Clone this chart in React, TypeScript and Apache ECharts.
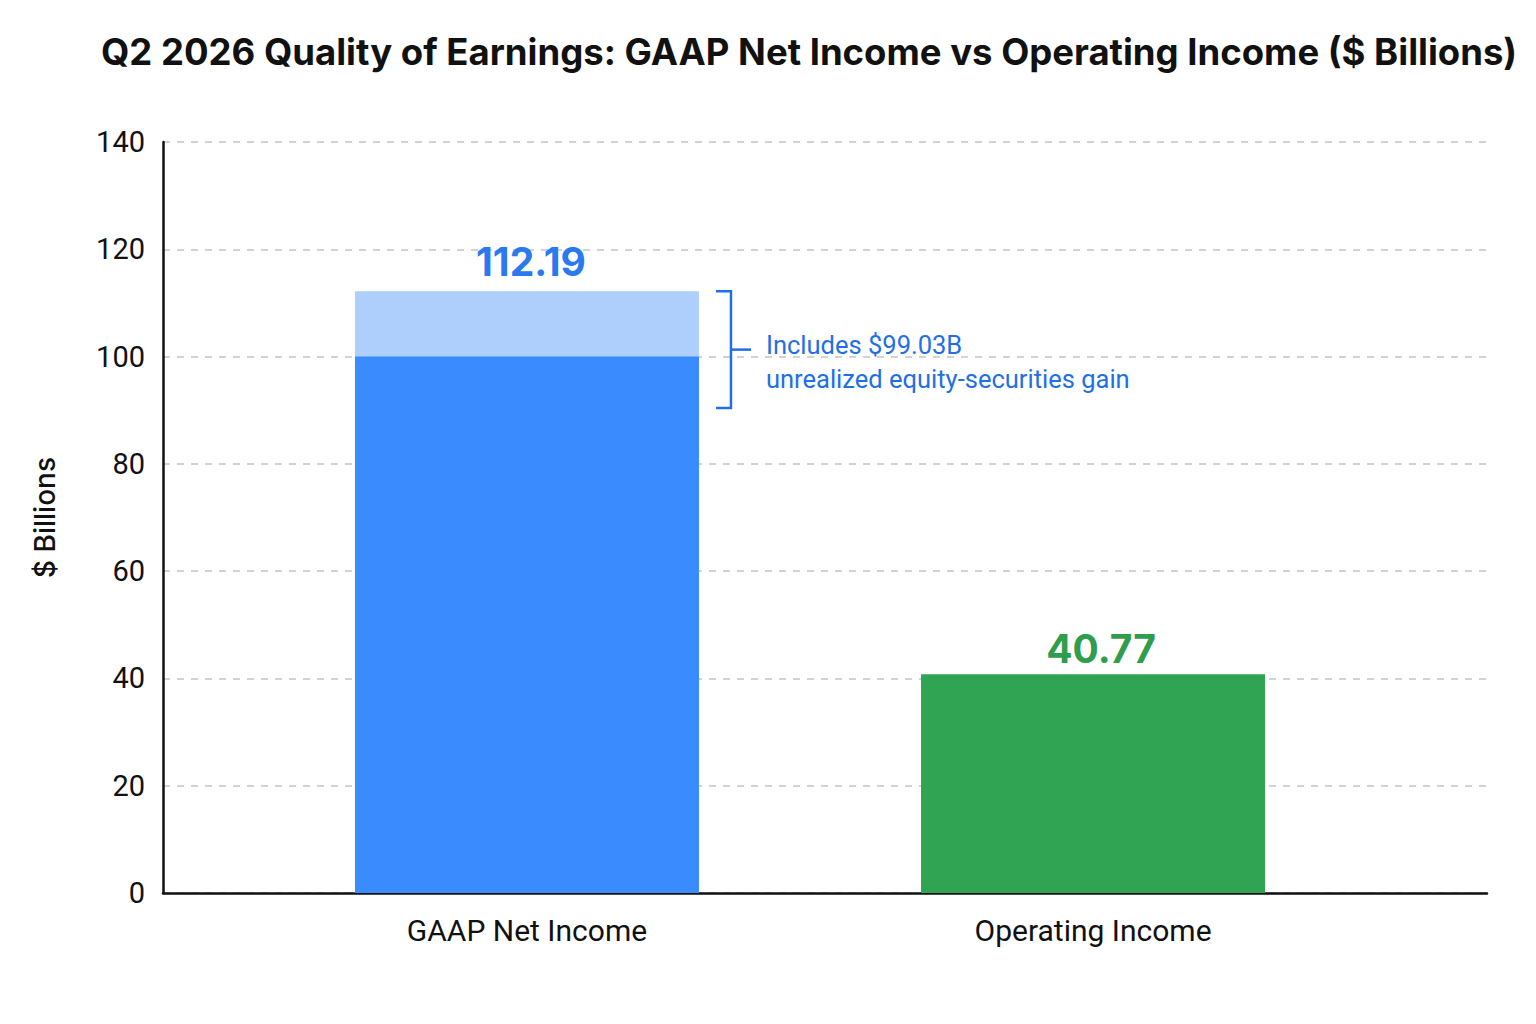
import React, { useEffect, useRef } from "react";
import * as echarts from "echarts";

const categories = ["GAAP Net Income", "Operating Income"];
const gaapCore = [100];
const gaapTotal = [112.19];
const operatingIncome = [40.77];
const bracketRange = [90.4, 112.19];
const annotationLines = ["Includes $99.03B", "unrealized equity-securities gain"];
const yTicks = [0, 20, 40, 60, 80, 100, 120, 140];

export default function App() {
  const ref = useRef<HTMLDivElement>(null);
  useEffect(() => {
    if (!ref.current) return;
    const chart = echarts.init(ref.current, undefined, { renderer: "svg" });
    const option: any = {
      animation: false,
      backgroundColor: "#ffffff",
      title: {
        text: "Q2 2026 Quality of Earnings: GAAP Net Income vs Operating Income ($ Billions)",
        left: 96,
        top: 28,
        textStyle: { fontFamily: "Inter, Roboto, sans-serif", fontWeight: 700, fontSize: 36.5, color: "#111111" },
      },
      grid: { left: 163, right: 49, top: 142, bottom: 131 },
      xAxis: {
        type: "value",
        min: -0.643,
        max: 1.696,
        splitLine: { show: false },
        axisLine: { show: true, onZero: false, lineStyle: { color: "#111111", width: 2.5 } },
        axisTick: { show: false },
        axisLabel: {
          customValues: [0, 1],
          formatter: (v: number) => categories[Math.round(v)] ?? "",
          fontFamily: "Roboto, sans-serif",
          fontSize: 30,
          color: "#111111",
          margin: 22,
        },
      },
      yAxis: {
        type: "value",
        min: yTicks[0],
        max: yTicks[yTicks.length - 1],
        interval: 20,
        name: "$ Billions",
        nameLocation: "middle",
        nameGap: 104,
        nameTextStyle: { fontFamily: "Inter, Roboto, sans-serif", fontSize: 28, fontWeight: 500, color: "#111111" },
        axisLine: { show: true, onZero: false, lineStyle: { color: "#111111", width: 2.5 } },
        axisTick: { show: false },
        axisLabel: { fontFamily: "Roboto, sans-serif", fontSize: 29, color: "#111111", margin: 18 },
        splitLine: { show: true, lineStyle: { color: "#c4c4c4", type: [7, 7], width: 1.5 } },
      },
      series: [
        {
          type: "bar",
          barWidth: 344,
          barGap: "-100%",
          data: gaapTotal.map((v) => [0, v]),
          itemStyle: { color: "#aecefc" },
          label: {
            show: true,
            position: "top",
            distance: 10,
            formatter: (p: any) => p.value[1].toFixed(2),
            fontFamily: "Inter, Roboto, sans-serif",
            fontWeight: 700,
            fontSize: 39,
            color: "#2a79ee",
            offset: [4, 0],
          },
          z: 2,
        },
        {
          type: "bar",
          barWidth: 344,
          barGap: "-100%",
          data: gaapCore.map((v) => [0, v]),
          itemStyle: { color: "#3a8bfd" },
          z: 3,
        },
        {
          type: "bar",
          barWidth: 344,
          barGap: "-100%",
          data: operatingIncome.map((v) => [1, v]),
          itemStyle: { color: "#30a452" },
          label: {
            show: true,
            position: "top",
            distance: 6,
            formatter: (p: any) => p.value[1].toFixed(2),
            fontFamily: "Inter, Roboto, sans-serif",
            fontWeight: 700,
            fontSize: 39,
            color: "#2f9e4c",
            offset: [8, 0],
          },
          z: 2,
        },
        {
          type: "custom",
          data: [[0, bracketRange[1], bracketRange[0]]],
          z: 5,
          renderItem: (params: any, api: any) => {
            const top = api.coord([api.value(0), api.value(1)]);
            const bot = api.coord([api.value(0), api.value(2)]);
            const x = top[0] + 172 + 32;
            const midY = (top[1] + bot[1]) / 2;
            const color = "#1f6fe8";
            return {
              type: "group",
              children: [
                {
                  type: "polyline",
                  shape: { points: [[x - 15, top[1]], [x, top[1]], [x, bot[1]], [x - 15, bot[1]]] },
                  style: { stroke: color, lineWidth: 2.5, fill: null },
                },
                {
                  type: "line",
                  shape: { x1: x, y1: midY, x2: x + 20, y2: midY },
                  style: { stroke: color, lineWidth: 2.5 },
                },
                {
                  type: "text",
                  x: x + 35,
                  y: midY - 22,
                  style: {
                    text: annotationLines.join("\n"),
                    fill: color,
                    fontFamily: "Roboto, sans-serif",
                    fontSize: 25.5,
                    lineHeight: 34,
                    verticalAlign: "top",
                    align: "left",
                  },
                },
              ],
            };
          },
        },
      ],
    };
    chart.setOption(option);
    return () => chart.dispose();
  }, []);
  return (
    <div
      ref={ref}
      style={{ position: "fixed", left: 0, top: 0, width: 1536, height: 1024, background: "#ffffff" }}
    />
  );
}
